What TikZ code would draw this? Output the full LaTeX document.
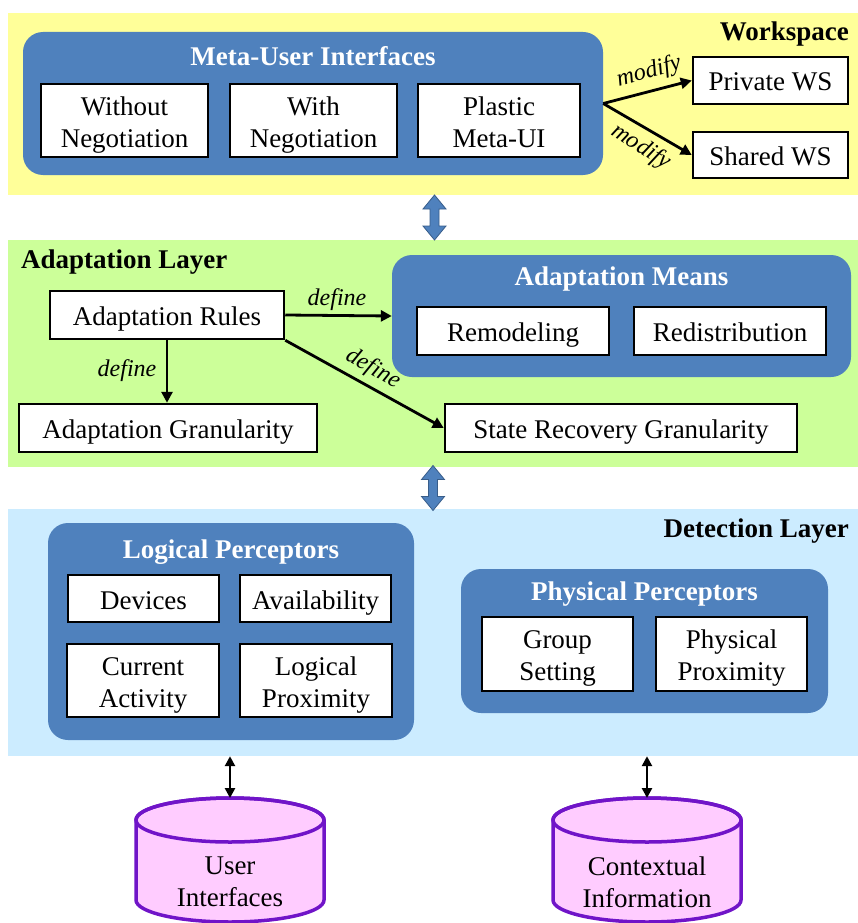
\documentclass[tikz,border=0pt]{standalone}
\usepackage{fontspec}
\setmainfont{Liberation Serif}
\usetikzlibrary{arrows.meta,calc}

\definecolor{wsyellow}{HTML}{FFFF99}
\definecolor{adgreen}{HTML}{CCFF99}
\definecolor{dtblue}{HTML}{CCECFF}
\definecolor{grpblue}{HTML}{4F81BD}
\definecolor{grpedge}{HTML}{385D8A}
\definecolor{dbfill}{HTML}{FFCCFF}
\definecolor{dbedge}{RGB}{112,20,200}

% two-line label with a tall strut on its first line
\newcommand\twolines[2]{\rule{0pt}{27pt}#1\\#2}

\tikzset{
  txt/.style={font=\fontsize{27}{32}\selectfont, inner sep=0pt},
  band/.style={draw=none, inner sep=0pt},
  group/.style={fill=grpblue, draw=none, rounded corners=20pt, inner sep=0pt},
  grptitle/.style={txt, font=\fontsize{27}{32}\selectfont\bfseries, text=white},
  layertitle/.style={txt, font=\fontsize{27}{32}\selectfont\bfseries},
  % fixed struts give every label the same line box, so it sits a bit low
  item/.style={txt, fill=white, draw=black, line width=2.5pt, align=center,
    execute at begin node={\rule{0pt}{27pt}},
    execute at end node={\rule[-6pt]{0pt}{1pt}}},
  verb/.style={font=\fontsize{24}{28}\selectfont\itshape, inner sep=0pt},
  link/.style={line width=2.8pt, -{Triangle[length=11pt,width=11pt]}},
  twoway/.style={line width=2.8pt, {Triangle[length=10pt,width=10pt]}-{Triangle[length=10pt,width=10pt]}},
  store/.style={fill=dbfill, draw=dbedge, line width=3.5pt},
  dblarrow/.pic={
    \fill[grpblue, draw=grpedge, line width=0.8pt]
      (0,22.5) -- (11.5,8.5) -- (4.5,8.5) -- (4.5,-8.5) -- (11.5,-8.5)
      -- (0,-22.5) -- (-11.5,-8.5) -- (-4.5,-8.5) -- (-4.5,8.5) -- (-11.5,8.5) -- cycle;
  }
}

\begin{document}
\begin{tikzpicture}[x=1pt,y=1pt]
\useasboundingbox (0,0) rectangle (858,-923);

% ---------- layer bands ----------
\node[band, fill=wsyellow, minimum width=850pt, minimum height=182pt] (ws) at (433,-104) {};
\node[band, fill=adgreen,  minimum width=850pt, minimum height=227pt] (al) at (433,-353.5) {};
\node[band, fill=dtblue,   minimum width=850pt, minimum height=247pt] (dl) at (433,-632.5) {};

\node[layertitle, anchor=east] (wslbl) at (849,-34) {Workspace};
\node[layertitle, anchor=west] (allbl) at (21,-262) {Adaptation Layer};
\node[layertitle, anchor=east] (dllbl) at (849,-531) {Detection Layer};

% ---------- block arrows between layers ----------
\pic at ($(ws.south)!0.5!(al.north)+(1.5,0)$) {dblarrow};
\pic at ($(al.south)!0.5!(dl.north)$) {dblarrow};

% ---------- workspace ----------
\node[group, minimum width=580pt, minimum height=143pt] (mui) at (313,-103.5) {};
\node[grptitle] (muit) at (313,-56) {Meta-User Interfaces};
\node[item, minimum width=167pt, minimum height=73pt] (wn)  at (124.5,-120.5) {\twolines{Without}{Negotiation}};
\node[item, minimum width=167pt, minimum height=73pt] (wwn) at (313.5,-120.5) {\twolines{With}{Negotiation}};
\node[item, minimum width=162pt, minimum height=73pt] (pmu) at (499,-120.5) {\twolines{Plastic}{Meta-UI}};

\node[item, minimum width=155pt, minimum height=47pt] (pws) at (770.5,-80.5) {Private WS};
\node[item, minimum width=155pt, minimum height=46pt] (sws) at (770.5,-155) {Shared WS};

\draw[link] (mui.east) -- (pws.west);
\draw[link] (mui.east) -- (sws.west);
\node[verb, rotate=15]  (mod1) at (649,-72)  {modify};
\node[verb, rotate=-33] (mod2) at (641,-147) {modify};

% ---------- adaptation layer ----------
\node[group, minimum width=459pt, minimum height=122pt] (am) at (621.5,-316) {};
\node[grptitle] (amt) at (621.5,-279) {Adaptation Means};
\node[item, minimum width=192pt, minimum height=48pt] (rem) at (513,-331) {Remodeling};
\node[item, minimum width=192pt, minimum height=48pt] (red) at (730,-331) {Redistribution};

\node[item, minimum width=234pt, minimum height=48pt] (ar)  at (167,-315) {Adaptation Rules};
\node[item, minimum width=298pt, minimum height=48pt] (ag)  at (168,-428) {Adaptation Granularity};
\node[item, minimum width=352pt, minimum height=48pt] (srg) at (621,-428) {State Recovery Granularity};

\draw[link] (ar.east) -- (am.west);
\draw[link] (ar.south) -- (ar.south |- ag.north);
\draw[link] (ar.south east) -- (srg.west);
\node[verb] (def1) at (337,-300) {define};
\node[verb] (def2) at (127,-371) {define};
\node[verb, rotate=-29] (def3) at (373,-369) {define};

% ---------- detection layer ----------
\node[group, minimum width=366pt, minimum height=217pt] (lp) at (231,-631.5) {};
\node[grptitle] (lpt) at (231,-552) {Logical Perceptors};
\node[item, minimum width=151pt, minimum height=47pt] (dev) at (143.5,-598.5) {Devices};
\node[item, minimum width=151pt, minimum height=47pt] (avl) at (315.5,-598.5) {Availability};
\node[item, minimum width=152pt, minimum height=73pt] (cur) at (143,-680.5) {\twolines{Current}{Activity}};
\node[item, minimum width=152pt, minimum height=73pt] (lpx) at (316,-680.5) {\twolines{Logical}{Proximity}};

\node[group, minimum width=367pt, minimum height=144pt] (pp) at (644.5,-641) {};
\node[grptitle] (ppt) at (644.5,-594) {Physical Perceptors};
\node[item, minimum width=151pt, minimum height=74pt] (grp) at (557.5,-654) {\twolines{Group}{Setting}};
\node[item, minimum width=151pt, minimum height=74pt] (ppx) at (731.5,-654) {\twolines{Physical}{Proximity}};

% ---------- data stores ----------
\foreach \cx/\nm in {230/ui, 647/ci} {
  \filldraw[store] (\cx-94,-820) -- (\cx-94,-900)
    arc[start angle=180, end angle=360, x radius=94pt, y radius=22pt]
    -- (\cx+94,-820)
    arc[start angle=0, end angle=180, x radius=94pt, y radius=22pt] -- cycle;
  \draw[store, fill=none] (\cx,-820) ellipse[x radius=94pt, y radius=22pt];
  \coordinate (\nm) at (\cx,-798);
}
\node[txt, align=center] (uit) at (230,-882) {User\\Interfaces};
\node[txt, align=center] (cit) at (647,-882) {Contextual\\Information};

\draw[twoway] (ui |- dl.south) -- (ui);
\draw[twoway] (ci |- dl.south) -- (ci);
\end{tikzpicture}
\end{document}
